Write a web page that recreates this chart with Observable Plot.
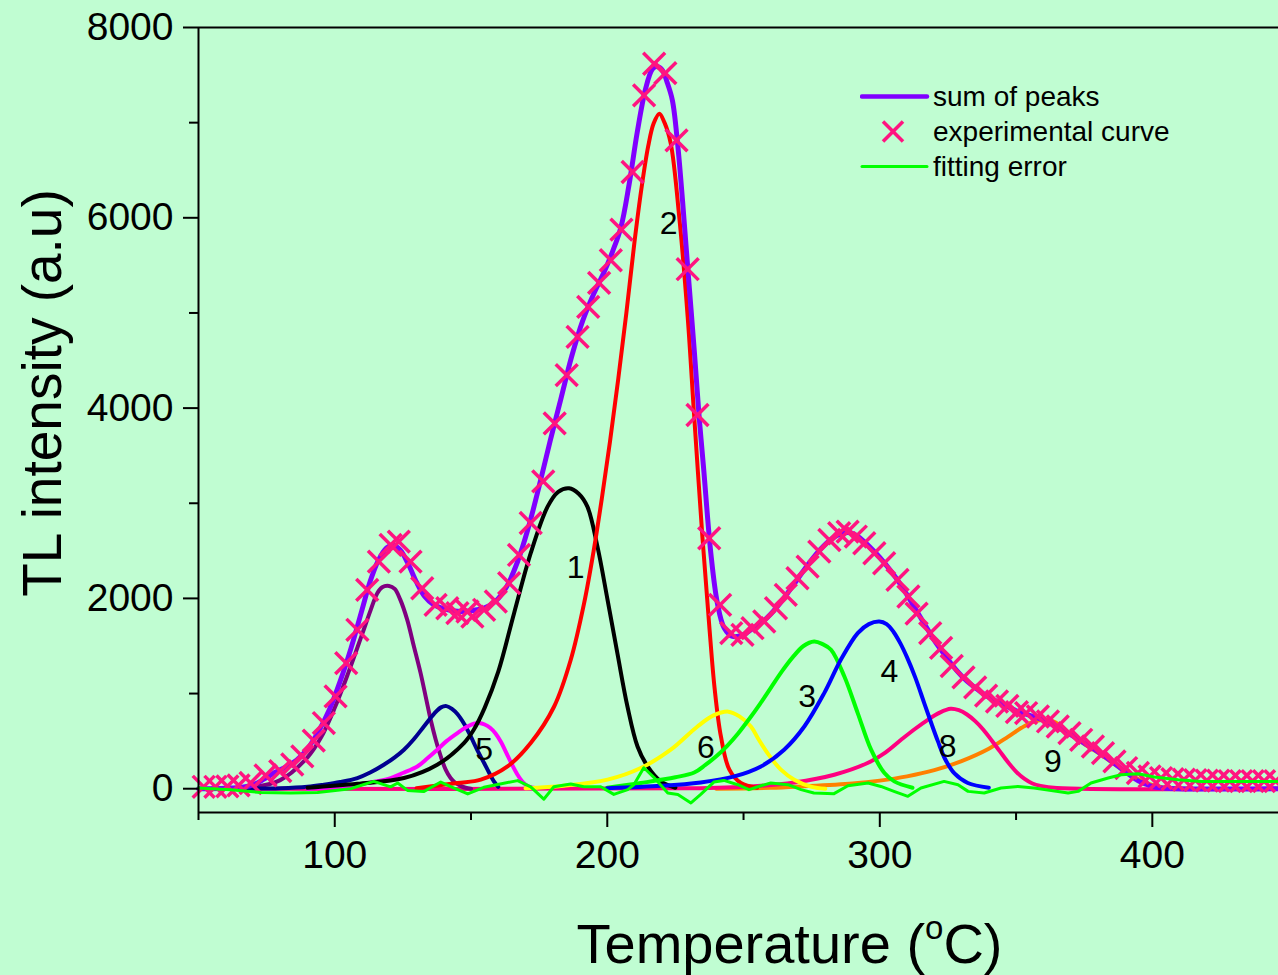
<!DOCTYPE html>
<html><head><meta charset="utf-8">
<script src="https://cdn.jsdelivr.net/npm/d3@7"></script>
<script src="https://cdn.jsdelivr.net/npm/@observablehq/plot@0.6"></script>
<style>
html,body{margin:0;padding:0;background:#c0fdd2;}
#wrap{position:relative;width:1278px;height:975px;overflow:hidden;font-family:"Liberation Sans",Arial,sans-serif;}
#legend{position:absolute;left:860px;top:79px;font-size:28px;color:#000;}
#legend .row{display:flex;align-items:center;height:35px;white-space:nowrap;}
#legend svg{flex:none;}
</style></head><body><div id="wrap"><div id="legend"></div></div>
<script>
// ---- axis setup ----
const xDomain = [50, 446.3];
const yDomain = [-250, 8000];
const xMajorTicks = [100, 200, 300, 400];
const xMinorTicks = [50, 150, 250, 350];
const yMajorTicks = [0, 2000, 4000, 6000, 8000];
const yMinorTicks = [1000, 3000, 5000, 7000];

// ---- experimental curve (markers) [T, I] ----
const experimental = [[51.9,20],[56.2,20],[60.6,25],[64.7,35],[69.1,60],[74.6,140],[80,185],[84.4,255],[88.1,340],[92.3,505],[96,690],[100.3,970],[104.2,1320],[108.3,1670],[111.9,2090],[116.2,2387],[120.5,2562],[123.5,2597],[127.8,2387],[132.1,2107],[137,1932],[141.3,1897],[145,1845],[148.7,1862],[150.5,1809],[154.8,1880],[159.1,1967],[164,2160],[167.6,2457],[171.9,2793],[176.5,3230],[180.7,3840],[185.1,4347],[189.1,4749],[193,5064],[197,5316],[201.3,5554],[205.2,5876],[209.3,6481],[213.5,7287],[217.2,7619],[221.3,7521],[225.4,6814],[229.5,5460],[233.1,3927],[237.4,2632],[241.4,1932],[245.5,1635],[249.6,1617],[253.3,1687],[257.6,1757],[261.9,1897],[265.5,2037],[269.8,2212],[273.5,2334],[277.8,2492],[281.5,2614],[285.1,2685],[288.2,2702],[291.2,2650],[294.3,2580],[298,2475],[301.6,2370],[306.5,2195],[310.5,2020],[313.5,1840],[318.5,1635],[322.5,1480],[326.4,1290],[330.7,1170],[335,1065],[339,978],[343,917],[346.8,870],[350.3,805],[353.7,795],[358,759],[361.7,707],[365.3,654],[369.6,584],[373.9,514],[378.2,444],[381.9,374],[386.1,287],[390.4,217],[394.7,165],[399,129],[403.2,112],[407.4,100],[411.6,95],[415.8,90],[420,85],[424.2,85],[428.4,80],[432.6,80],[436.8,80],[441,80],[445.2,80]];

// ---- sum of peaks ----
const sumOfPeaks = [[50,0],[60,5],[66,15],[70,40],[74,100],[78,170],[82,230],[86,300],[90,420],[94,600],[98,830],[102,1130],[106,1480],[110,1880],[113,2180],[116,2400],[119,2530],[121.5,2560],[124,2510],[127,2360],[130,2170],[133,2020],[136,1940],[140,1890],[145,1865],[150,1870],[155,1900],[159,1970],[163,2120],[167,2380],[171,2740],[175,3180],[179,3650],[183,4100],[187,4550],[191,4920],[195,5200],[199,5440],[202,5650],[205,5900],[208,6350],[211,6900],[214,7350],[216.5,7560],[218,7590],[220,7560],[222,7420],[223.9,7234],[225.8,6780],[227.6,6184],[229.5,5484],[231.9,4610],[233.7,3910],[235.3,3384],[238,2475],[240.4,1950],[242.9,1690],[246,1600],[250,1620],[254,1700],[258,1780],[262,1900],[266,2050],[270,2210],[274,2370],[278,2510],[282,2620],[286,2680],[289,2690],[292,2650],[296,2550],[300,2430],[304,2290],[308,2130],[312,1940],[316,1750],[320,1560],[324,1400],[328,1250],[332,1130],[336,1040],[340,960],[345,890],[350,820],[355,770],[360,720],[365,650],[370,570],[375,480],[380,390],[385,290],[390,180],[395,80],[400,25],[405,5],[446.3,0]];

// ---- component peaks ----
const peak7 = [[60,0],[70,15],[80,90],[90,330],[95,540],[100,850],[105,1220],[110,1620],[113.2,1880],[115.6,2055],[117.4,2118],[119.9,2131],[122,2100],[124,1990],[126.6,1775],[129,1500],[131.5,1215],[133.5,950],[135.2,724],[137,520],[138.9,339],[140.7,200],[142.5,112],[144.3,60],[146.2,30],[148,10],[150,0]];
const peakNavy = [[60,0],[80,5],[90,20],[96,42],[102,70],[108.3,112],[113,170],[118,252],[122,330],[125.4,410],[129,520],[132.7,654],[136.5,790],[139,855],[141,868],[143,840],[145,785],[147.5,680],[149.9,549],[152.4,400],[154.8,270],[156.6,170],[158.4,77],[160,20]];
const peak5 = [[90,0],[100,15],[108.3,42],[115,75],[120.5,112],[125,165],[130.3,234],[134,320],[137.6,410],[141,500],[145,585],[148.5,650],[151,683],[153,690],[155,675],[157,640],[159,580],[161,490],[163,375],[165,255],[167,150],[169,70],[171,25],[174,5]];
const peak1 = [[90,10],[108.3,52],[125.4,112],[137.6,252],[147.4,480],[151,620],[155,850],[160,1230],[165.8,1845],[171.9,2475],[178.1,2964],[182,3120],[186,3157],[189.5,3100],[192.7,2964],[196.4,2544],[200.1,1985],[203.7,1425],[207.4,864],[211.1,444],[214.8,234],[219.6,77],[225,10]];
const peak2 = [[130,5],[145,60],[153.6,95],[163.4,234],[171.9,480],[180.5,864],[186.6,1355],[191.5,1950],[195,2500],[198,3050],[201,3650],[204,4300],[207,5000],[210,5750],[212.5,6300],[215,6750],[217,6990],[219.1,7094],[221,7000],[223.3,6780],[226.4,6010],[229.5,4960],[231.9,3910],[234.9,2650],[237.4,1720],[239.4,1050],[241.7,549],[244.8,200],[249,60],[255,10]];
const peak6 = [[170,5],[184.1,31],[200.1,95],[212.3,217],[223.3,410],[233.1,654],[239,770],[244.4,810],[248.5,760],[252.7,654],[255.5,520],[258.8,374],[263.7,200],[268.6,95],[275,20],[280,0]];
const peak3 = [[200,10],[212.3,60],[225,120],[231.9,170],[236,250],[240,340],[244,450],[248,580],[252,730],[256,890],[260,1060],[264,1230],[268,1380],[272,1500],[275.9,1547],[279,1520],[282.1,1460],[287,1179],[291.9,795],[296.8,410],[301.7,165],[305.3,77],[312,10]];
const peak4 = [[200,5],[220,30],[234.3,66],[246.6,129],[256.4,234],[264.9,410],[272.3,654],[279.6,1005],[285.7,1355],[291.9,1635],[296,1730],[299.8,1757],[302.5,1730],[305,1650],[307.5,1530],[310,1380],[313,1170],[316.3,900],[319,680],[321.3,500],[324,310],[327.4,160],[332.3,60],[340,10]];
const peak8 = [[50,0],[230,5],[252.7,24],[268.6,66],[283.3,147],[295.5,270],[302,380],[307.8,514],[313,630],[317.6,724],[322,800],[326,840],[329,825],[332,780],[335,710],[338,620],[341,510],[344,395],[347,280],[350,180],[353,105],[356,55],[359,30],[365,8],[446.3,0]];
const peak9 = [[240,0],[260,10],[271,24],[290,55],[300,85],[310,130],[320,195],[330,290],[340,420],[347,545],[352,640],[356,700],[360,725],[363,715],[366,670],[370,570],[375,470],[380,380],[385,280],[390,180],[395,100],[400,40],[405,10],[446.3,0]];

// ---- fitting error ----
const fittingError = [[50,7],[61.8,-10],[72.8,-40],[83.8,-45],[93.7,-40],[105.8,0],[114.3,77],[120.5,20],[123.1,60],[126.7,-18],[132.6,-30],[138.9,70],[143.6,10],[148.8,-55],[154.7,15],[159.8,45],[167.1,85],[171.9,20],[176.7,-110],[180.4,20],[186.6,50],[191.4,20],[197.6,20],[202.4,-60],[207.5,-10],[209.7,40],[213.4,220],[217.1,120],[222.2,-45],[225.9,-60],[230.7,-150],[234.3,-60],[239.1,70],[242.8,87],[247.9,42],[252,-10],[256.4,31],[260,60],[266.3,42],[271.1,-10],[275.8,-45],[283.2,-52],[288.3,31],[295.7,60],[300.4,24],[305.2,-28],[310.3,-80],[315.1,7],[323.6,77],[328.7,42],[332.4,-28],[338.3,-45],[344.5,7],[350.7,24],[356.6,7],[362.9,-18],[369.1,-45],[372.8,-28],[377.5,60],[383.8,112],[388.6,147],[394.8,157],[400.7,123],[409.5,95],[417.9,77],[446.3,77]];

// ---- peak number labels ----
const peakLabelText = ["1","2","3","4","5","6","8","9"];
const peakLabelT = [188.4, 222.5, 273.3, 303.5, 154.8, 236.2, 324.9, 363.5];
const peakLabelI = [2317, 5940, 969, 1232, 410, 427, 444, 287];
const peakLabels = peakLabelText.map((t, i) => ({text: t, T: peakLabelT[i], I: peakLabelI[i]}));

// ---- legend ----
const legendNames = ["sum of peaks", "experimental curve", "fitting error"];

const X = d => d[0], Y = d => d[1];
const comp = (data, color) => Plot.line(data, {x: X, y: Y, stroke: color, strokeWidth: 4, curve: "catmull-rom"});

const plot = Plot.plot({
  width: 1278, height: 975,
  marginLeft: 198, marginRight: 0, marginTop: 27, marginBottom: 163,
  style: {background: "transparent", fontFamily: "Liberation Sans, Arial, sans-serif", overflow: "visible", color: "#000"},
  x: {domain: xDomain},
  y: {domain: yDomain},
  marks: [
    comp(peak9, "#ff8000"),
    comp(peak8, "#ff0080"),
    comp(peak7, "#800080"),
    comp(peakNavy, "#000090"),
    comp(peak5, "#ff00ff"),
    comp(peak1, "#000000"),
    comp(peak2, "#ff0000"),
    comp(peak6, "#ffff00"),
    comp(peak3, "#00ff00"),
    comp(peak4, "#0000ff"),
    Plot.line(sumOfPeaks, {x: X, y: Y, stroke: "#8000ff", strokeWidth: 5, curve: "catmull-rom"}),
    Plot.dot(experimental, {x: X, y: Y, symbol: "times", r: 10, stroke: "#ff1480", strokeWidth: 3.5}),
    Plot.line(fittingError, {x: X, y: Y, stroke: "#00ff00", strokeWidth: 3}),
    Plot.text(peakLabels, {x: "T", y: "I", text: "text", fontSize: 32}),
    Plot.ruleX([xDomain[0]], {stroke: "#000", strokeWidth: 2}),
    Plot.ruleY([yDomain[1]], {stroke: "#000", strokeWidth: 2}),
    Plot.ruleY([yDomain[0]], {stroke: "#000", strokeWidth: 2}),
    Plot.axisX(xMajorTicks, {tickSize: 15, tickPadding: 13, fontSize: 39, strokeWidth: 2, label: null, tickFormat: d3.format("d")}),
    Plot.axisX(xMinorTicks, {tickSize: 8, tickFormat: () => "", strokeWidth: 2, label: null}),
    Plot.axisY(yMajorTicks, {tickSize: 15, tickPadding: 10, fontSize: 39, strokeWidth: 2, label: null, tickFormat: d3.format("d")}),
    Plot.axisY(yMinorTicks, {tickSize: 9, tickFormat: () => "", strokeWidth: 2, label: null}),
    Plot.text(["TL intensity (a.u)"], {frameAnchor: "left", textAnchor: "middle", rotate: -90, dx: -155, dy: -27, fontSize: 55}),
    Plot.text(["Temperature (oC)"], {frameAnchor: "bottom", textAnchor: "middle", lineAnchor: "bottom", dx: 51, dy: 150, fontSize: 56})
  ]
});

// superscript "o" in the x title
d3.select(plot).selectAll("text").filter(function() { return this.textContent === "Temperature (oC)"; })
  .each(function() {
    const t = d3.select(this);
    t.text(null);
    t.append("tspan").text("Temperature (");
    t.append("tspan").attr("font-size", 33).attr("dy", -24).text("o");
    t.append("tspan").attr("dy", 24).text("C)");
  });

const wrap = document.getElementById("wrap");
wrap.insertBefore(plot, wrap.firstChild);

// legend
const legend = d3.select("#legend");
const swatches = [
  s => s.append("line").attr("x1", 2).attr("x2", 67).attr("y1", 17.5).attr("y2", 17.5).attr("stroke", "#8000ff").attr("stroke-width", 4.5).attr("stroke-linecap", "round"),
  s => { s.append("line").attr("x1", 23).attr("x2", 43).attr("y1", 7.5).attr("y2", 27.5).attr("stroke", "#ff1480").attr("stroke-width", 3.5);
         s.append("line").attr("x1", 23).attr("x2", 43).attr("y1", 27.5).attr("y2", 7.5).attr("stroke", "#ff1480").attr("stroke-width", 3.5); },
  s => s.append("line").attr("x1", 2).attr("x2", 67).attr("y1", 17.5).attr("y2", 17.5).attr("stroke", "#00ff00").attr("stroke-width", 3).attr("stroke-linecap", "round")
];
legendNames.forEach((name, i) => {
  const row = legend.append("div").attr("class", "row");
  const svg = row.append("svg").attr("width", 73).attr("height", 35);
  swatches[i](svg);
  row.append("span").text(name);
});
wrap.appendChild(document.getElementById("legend"));
</script></body></html>
